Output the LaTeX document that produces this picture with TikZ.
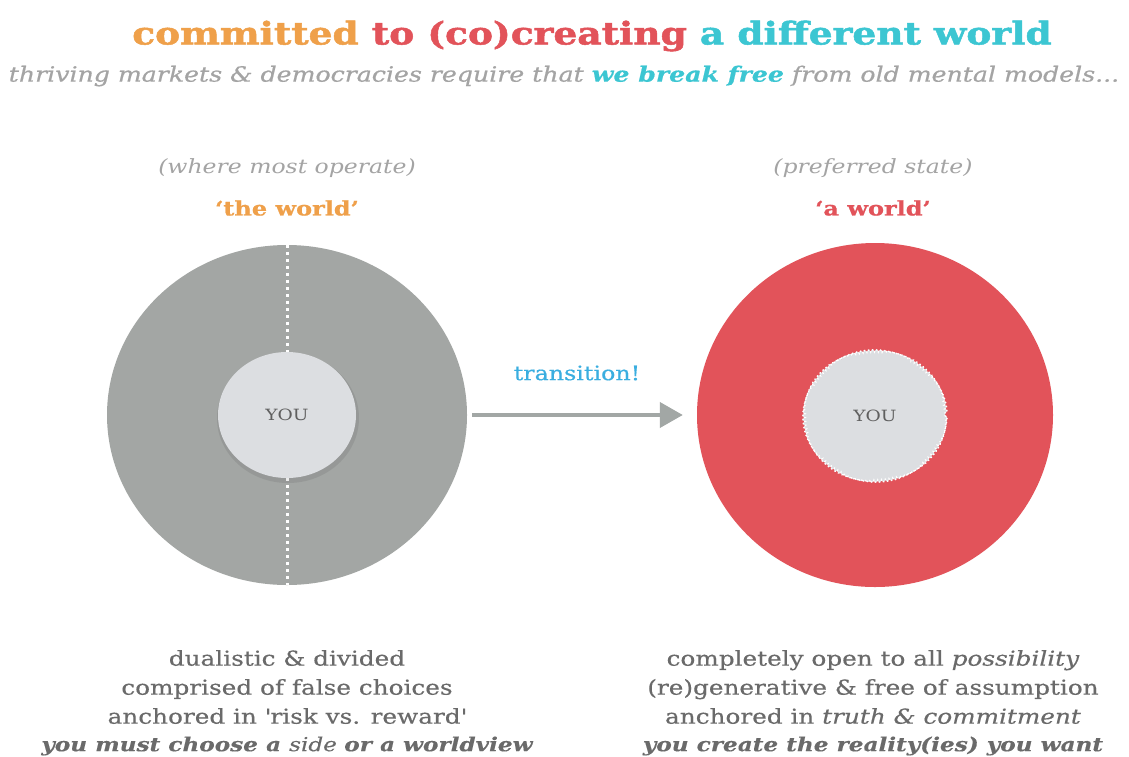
\documentclass[tikz,border=0pt]{standalone}
\usepackage{fontspec}
\setmainfont[FakeStretch=1.2]{DejaVu Serif}
\newfontfamily\titlefont[FakeStretch=1.2, FakeBold=1.6]{DejaVu Serif}
\newfontfamily\worldfont[FakeStretch=1.2, FakeBold=0.8]{DejaVu Serif}
\newfontfamily\subfont[FakeStretch=1.2, FakeBold=0.6]{DejaVu Serif}
\newfontfamily\bodyfont[FakeStretch=1.2, FakeBold=0.35]{DejaVu Serif}
\usetikzlibrary{arrows.meta,shapes.geometric,decorations.pathmorphing}
\definecolor{corange}{HTML}{EFA04A}
\definecolor{cred}{HTML}{E2535A}
\definecolor{ccyan}{HTML}{3CC6D2}
\definecolor{cblue}{HTML}{3AAEE0}
\definecolor{cgreyc}{HTML}{A3A6A4}
\definecolor{cinner}{HTML}{DCDEE1}
\definecolor{csub}{HTML}{A4A4A4}
\definecolor{ctext}{HTML}{6A6A6A}
\definecolor{carrow}{HTML}{A2A7A5}
\tikzset{
  lbl/.style={font=\fontsize{19.6}{22}\selectfont\itshape, text=csub},
  world/.style={font=\worldfont\fontsize{20}{23}\selectfont\bfseries},
  body/.style={font=\bodyfont\fontsize{20.6}{29}\selectfont, text=ctext, align=center},
  lastline/.style={font=\bodyfont\fontsize{19.3}{22}\selectfont\bfseries\itshape, text=ctext},
  you/.style={font=\fontsize{15.5}{17}\selectfont, text=ctext!90!black},
  conn/.style={draw=carrow, line width=4pt, -{Triangle[length=23pt,width=25pt]}},
  scallop/.style={decorate, decoration={bumps, segment length=7.6pt, amplitude=2.2pt}},
}
\begin{document}
\begin{tikzpicture}[x=1pt,y=-1pt]
\useasboundingbox (0,0) rectangle (1129,756);
\fill[white] (0,0) rectangle (1129,756);
% title
\node (title) at (592,36) {\titlefont\fontsize{31.3}{35}\selectfont\bfseries\textcolor{corange}{committed} \textcolor{cred}{to (co)creating} \textcolor{ccyan}{a different world}};
\node (sub) at (564,76) {\subfont\fontsize{21}{24}\selectfont\itshape\textcolor{csub}{thriving markets \& democracies require that \textbf{\textcolor{ccyan}{we break free}} from old mental models...}};
% left
\node[lbl] (lq) at (287,168) {(where most operate)};
\node[world, text=corange] (lw) at (287,208) {‘the world’};
\node[ellipse, fill=cgreyc, minimum width=360pt, minimum height=340pt, inner sep=0pt] (L) at (287,415) {};
\draw[white, line width=3pt, dash pattern=on 3pt off 4pt] (L.north) -- (287,352);
\draw[white, line width=3pt, dash pattern=on 3pt off 4pt] (287,478) -- (L.south);
\fill[black, opacity=0.08] (288,418) ellipse [x radius=71, y radius=65];
\node[ellipse, fill=cinner, minimum width=138pt, minimum height=126pt, inner sep=0pt, you] (LY) at (287,415) {YOU};
% right
\node[lbl] (rq) at (873,168) {(preferred state)};
\node[world, text=cred] (rw) at (873,208) {‘a world’};
\node[ellipse, fill=cred, minimum width=356pt, minimum height=344pt, inner sep=0pt] (R) at (875,415) {};
\coordinate (RC) at (875,416);
\fill[cinner, scallop] (RC) ellipse [x radius=70, y radius=64];
\draw[white, line width=1.3pt, dash pattern=on 1.6pt off 1.6pt, scallop] (RC) ellipse [x radius=70, y radius=64];
\node[you] (RY) at (RC) {YOU};
% arrow
\draw[conn, shorten <=5pt, shorten >=14pt] (L.east) -- (R.west);
\node[font=\subfont\fontsize{19.8}{22}\selectfont, text=cblue] (tr) at (577,373) {transition!};
% bottom texts
\node[body] (lb) at (287,687) {dualistic \& divided\\comprised of false choices\\anchored in \textquotesingle risk vs. reward\textquotesingle};
\node[lastline] (lb4) at (287,746) {you must choose a \mdseries side \bfseries or a worldview};
\node[body] (rb) at (873,687) {completely open to all \textit{possibility}\\(re)generative \& free of assumption\\anchored in \textit{truth \& commitment}};
\node[lastline] (rb4) at (873,746) {you create the reality(ies) you want};
\end{tikzpicture}
\end{document}
